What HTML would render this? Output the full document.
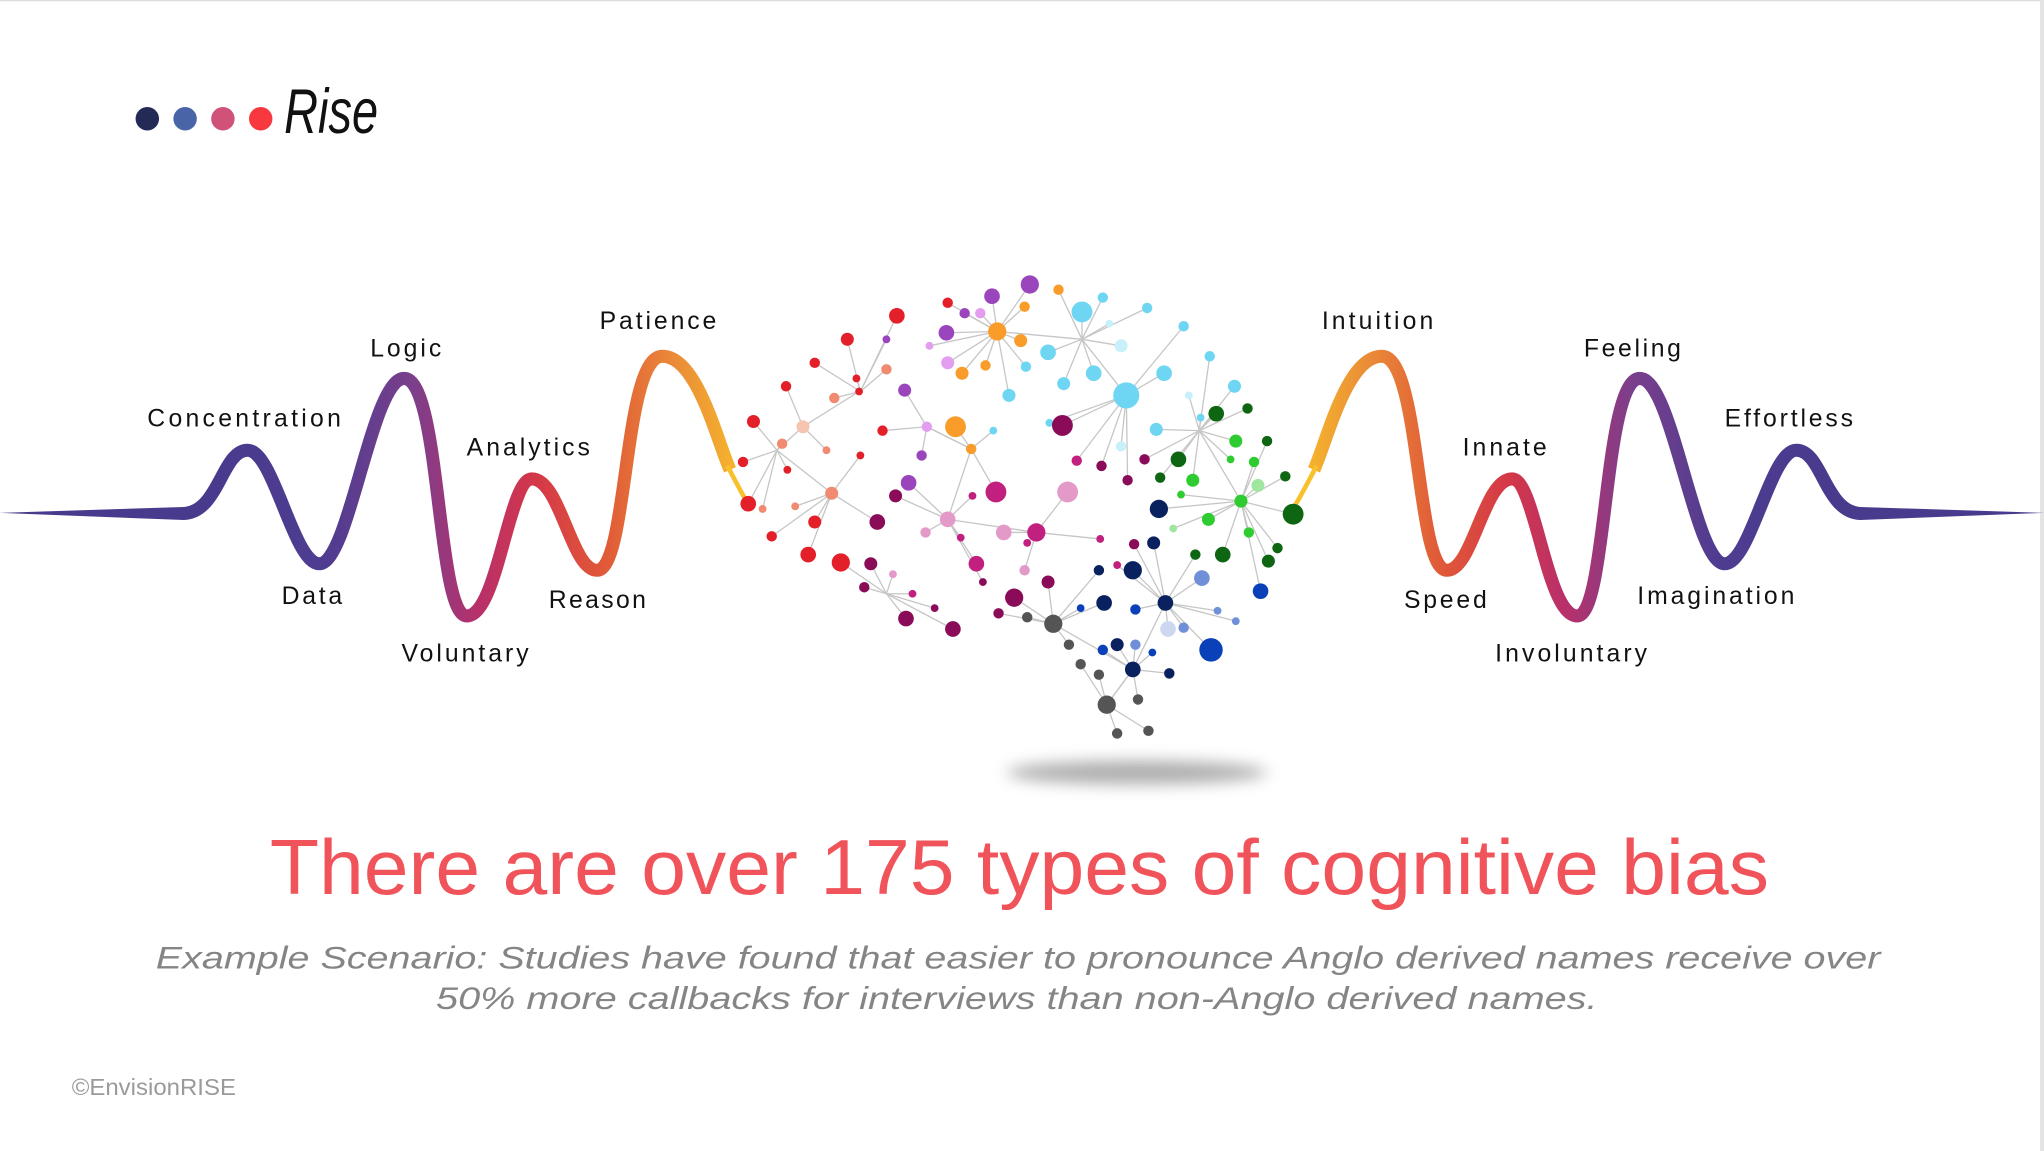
<!DOCTYPE html>
<html><head><meta charset="utf-8"><style>
html,body{margin:0;padding:0;background:#fff;}
svg{display:block;}
text{font-family:"Liberation Sans",sans-serif;}
</style></head><body>
<svg id="s" width="2044" height="1151" viewBox="0 0 1568 882" preserveAspectRatio="none" xmlns="http://www.w3.org/2000/svg">
<defs>
<linearGradient id="g" gradientUnits="userSpaceOnUse" x1="140" y1="0" x2="578" y2="0">
<stop offset="0" stop-color="#483a8c"/><stop offset="0.25" stop-color="#4e3c90"/><stop offset="0.4" stop-color="#7a3f8c"/>
<stop offset="0.52" stop-color="#b8306a"/><stop offset="0.62" stop-color="#d43848"/><stop offset="0.74" stop-color="#e05a38"/>
<stop offset="0.86" stop-color="#ea8a38"/><stop offset="1" stop-color="#f8c02a"/></linearGradient>
<filter id="bl" x="-50%" y="-200%" width="200%" height="500%"><feGaussianBlur stdDeviation="6"/></filter>
<g id="wave">
<path d="M0,393 L141,388.5 L141,398.5 Z" fill="#483a8c"/>
<path d="M140,393.5 C168,393.5 170,345 190,345 C210,345 225,432 245,432 C268,432 285,290 310,290 C338,290 335,472 358,472 C382,472 390,367 408,367 C430,367 438,437 458,437 C482,437 478,273 508,273 C535,273 550,338 560,360" fill="none" stroke="url(#g)" stroke-width="10" stroke-linecap="butt"/>
<path d="M558,357 C566,372 570,380 575,388" fill="none" stroke="#f8c02a" stroke-width="3.5"/>
</g>
</defs>
<rect x="0" y="0" width="1568" height="1" fill="#ddd"/>
<rect x="1565" y="0" width="3" height="882" fill="#e4e4e4"/>
<circle cx="113" cy="91" r="9" fill="#232a55"/><circle cx="142" cy="91" r="9" fill="#4a64a8"/>
<circle cx="171" cy="91" r="9" fill="#d05278"/><circle cx="200" cy="91" r="9" fill="#f8383f"/>
<text x="218" y="102" font-family="'DejaVu Serif',serif" font-style="italic" font-size="48" fill="#111" textLength="72" lengthAdjust="spacingAndGlyphs">Rise</text>
<use href="#wave"/>
<g transform="translate(1568,0) scale(-1,1)"><use href="#wave"/></g>
<g font-size="19" fill="#111" letter-spacing="1.5" lengthAdjust="spacingAndGlyphs">
<text x="113" y="327" textLength="150">Concentration</text><text x="284" y="273" textLength="56">Logic</text>
<text x="358" y="349" textLength="96">Analytics</text><text x="460" y="252" textLength="91">Patience</text>
<text x="216" y="463" textLength="48">Data</text><text x="308" y="507" textLength="99">Voluntary</text><text x="421" y="466" textLength="76">Reason</text>
<text x="1014" y="252" textLength="87">Intuition</text><text x="1122" y="349" textLength="66">Innate</text>
<text x="1215" y="273" textLength="76">Feeling</text><text x="1323" y="327" textLength="100">Effortless</text>
<text x="1077" y="466" textLength="65">Speed</text><text x="1147" y="507" textLength="118">Involuntary</text><text x="1256" y="463" textLength="122">Imagination</text>
</g>
<ellipse cx="872" cy="592" rx="100" ry="9" fill="#999" filter="url(#bl)" opacity="0.8"/>
<g id="edges" stroke="#c6c6c6" stroke-width="1"></g>
<g id="nodes"></g>
<text x="782" y="685" font-size="60" fill="#f0535a" text-anchor="middle" textLength="1150" lengthAdjust="spacingAndGlyphs">There are over 175 types of cognitive bias</text>
<g font-size="24" fill="#858585" font-style="italic" text-anchor="middle">
<text x="781" y="742" textLength="1323" lengthAdjust="spacingAndGlyphs">Example Scenario: Studies have found that easier to pronounce Anglo derived names receive over</text>
<text x="780" y="773" textLength="891" lengthAdjust="spacingAndGlyphs">50% more callbacks for interviews than non-Anglo derived names.</text>
</g>
<text x="55" y="839" font-size="18" fill="#9a9a9a" textLength="126" lengthAdjust="spacingAndGlyphs">©EnvisionRISE</text>
</svg>
<script>
var R='#e3202a',S='#f08a70',P='#f7c4b0',PU='#9b45bd',PK='#e39ef0',O='#f99c2a',LB='#6ed6f2',PB='#c8f0fa',DG='#0e6612',BG='#2ecc30',LG='#a0e6a0',MR='#8a0c58',MG='#c2207e',LP='#e49ac8',NV='#0a2160',BL='#0a40b8',CB='#6f8fd8',GR='#555';
var N=[
[688,242,6,R],[650,260,5,R],[625,278,4,R],[603,296,4,R],[578,323,5,R],[570,354,4,R],[574,386,6,R],[592,411,4,R],[620,425,6,R],[645,431,7,R],[610,388,3,S],[625,400,5,R],[638,378,5,S],[616,327,5,P],[660,349,3,R],[657,290,3,R],[640,305,4,S],[677,330,4,R],[600,340,4,S],[634,345,3,S],[659,300,3,R],[585,390,3,S],[604,360,3,R],[680,283,4,S],
[727,232,4,R],[740,240,4,PU],[752,240,4,PK],[761,227,6,PU],[790,218,7,PU],[812,222,4,O],[786,235,4,O],[765,254,7,O],[783,261,5,O],[726,255,6,PU],[727,278,5,PK],[738,286,5,O],[756,280,4,O],[694,299,5,PU],[711,327,4,PK],[733,327,8,O],[745,344,4,O],[707,349,4,PU],[697,370,6,PU],[774,303,5,LB],[762,330,3,LB],[713,265,3,PK],[680,260,3,PU],
[830,239,8,LB],[846,228,4,LB],[880,236,4,LB],[908,250,4,LB],[860,265,5,PB],[804,270,6,LB],[787,281,4,LB],[839,286,6,LB],[893,286,6,LB],[928,273,4,LB],[947,296,5,LB],[864,303,10,LB],[816,294,5,LB],[887,329,5,LB],[805,324,3,LB],[921,320,3,LB],[933,316,3,LB],[860,342,4,PB],[912,303,3,PB],[851,248,3,PB],
[933,317,6,DG],[957,313,4,DG],[972,338,4,DG],[948,338,5,BG],[962,354,4,BG],[904,352,6,DG],[915,368,5,BG],[890,366,4,DG],[952,384,5,BG],[927,398,5,BG],[938,425,6,DG],[917,425,4,DG],[986,365,4,DG],[992,394,8,DG],[973,430,5,DG],[980,420,4,DG],[965,372,5,LG],[906,379,3,BG],[900,405,3,LG],[958,408,4,BG],[944,352,3,BG],
[815,326,8,MR],[845,357,4,MR],[826,353,4,MG],[878,352,4,MR],[865,368,4,MR],[764,377,8,MG],[819,377,8,LP],[795,408,7,MG],[770,408,6,LP],[727,398,6,LP],[687,380,5,MR],[673,400,6,MR],[710,408,4,LP],[749,432,6,MG],[778,458,7,MR],[731,482,6,MR],[695,474,6,MR],[668,432,5,MR],[663,450,4,MR],[717,466,3,MR],[754,446,3,MR],[788,416,3,MG],[844,413,3,MG],[857,433,3,MG],[870,417,4,MR],[804,446,5,MR],[786,437,4,LP],[766,470,4,MR],[737,412,3,MG],[685,440,3,LP],[700,455,3,MG],[746,380,3,MG],
[889,390,7,NV],[885,416,5,NV],[869,437,7,NV],[843,437,4,NV],[847,462,6,NV],[829,466,3,BL],[871,467,4,BL],[894,462,6,NV],[922,443,6,CB],[967,453,6,BL],[908,481,4,CB],[896,482,6,'#cdd8f0'],[857,494,5,NV],[846,498,4,BL],[871,494,4,CB],[929,498,9,BL],[897,516,4,NV],[869,513,6,NV],[934,468,3,CB],[948,476,3,CB],[884,500,3,BL],
[808,478,7,GR],[788,473,4,GR],[820,494,4,GR],[829,509,4,GR],[843,517,4,GR],[849,540,7,GR],[873,536,4,GR],[857,562,4,GR],[881,560,4,GR]
];
var H=[[638,378],[616,327],[727,398],[745,344],[765,254],[864,303],[952,384],[795,408],[894,462],[808,478],[849,540],[680,455],[711,327],[596,345],[660,300],[869,513],[830,260],[920,330]];
var e='',n='';
N.forEach(function(p){var b=null,bd=1e9;H.forEach(function(h){var d=(h[0]-p[0])*(h[0]-p[0])+(h[1]-p[1])*(h[1]-p[1]);if(d>1&&d<bd){bd=d;b=h;}});
if(b&&bd<9000)e+='<line x1="'+p[0]+'" y1="'+p[1]+'" x2="'+b[0]+'" y2="'+b[1]+'"/>';
n+='<circle cx="'+p[0]+'" cy="'+p[1]+'" r="'+p[2]+'" fill="'+p[3]+'"/>';});
document.getElementById('edges').innerHTML=e;document.getElementById('nodes').innerHTML=n;
</script>
</body></html>
